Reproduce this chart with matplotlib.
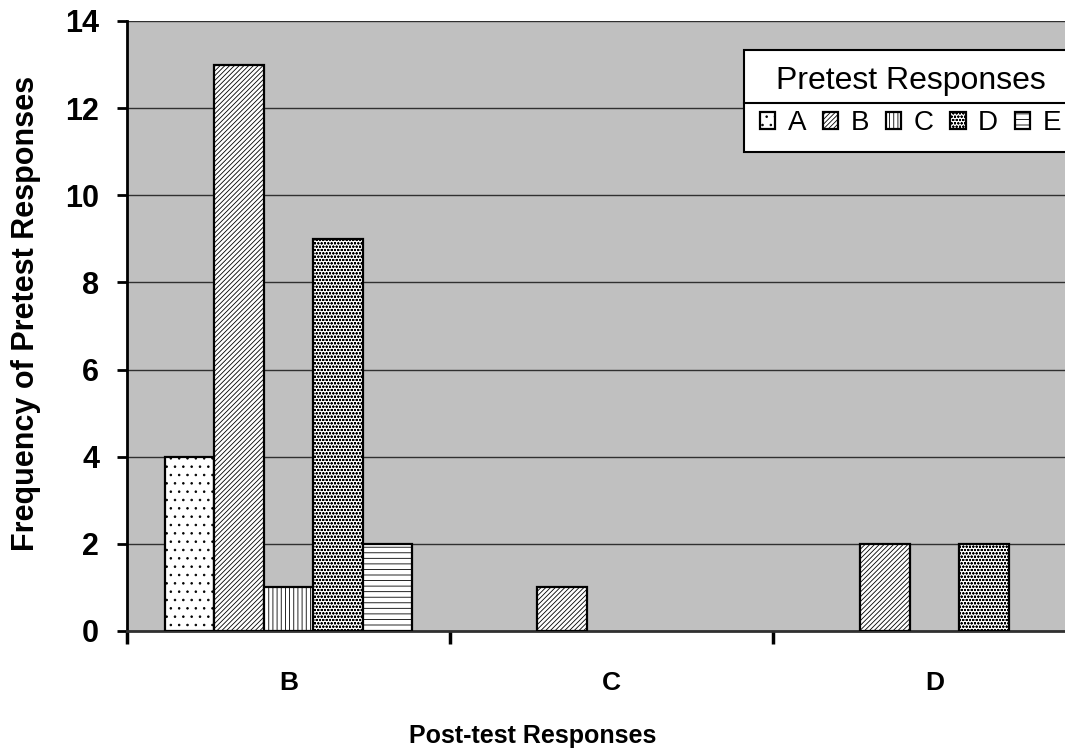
import numpy as np
import matplotlib
matplotlib.use("Agg")
import matplotlib.pyplot as plt
from matplotlib.lines import Line2D

plt.rcParams['font.family'] = ['Liberation Sans', 'DejaVu Sans']
plt.rcParams['hatch.linewidth'] = 0.6

# post-test answer groups and the pretest answers within each
post_labels = ['B', 'C', 'D']
pre_labels = ['A', 'B', 'C', 'D', 'E']

# frequency of each pretest answer, one list per pretest answer (over B, C, D)
freq_A = [4, 0, 0]
freq_B = [13, 1, 2]
freq_C = [1, 0, 0]
freq_D = [9, 0, 2]
freq_E = [2, 0, 0]
series = [freq_A, freq_B, freq_C, freq_D, freq_E]

hatches = ['..', '///////', '||||', 'ooooo', '---']

fig = plt.figure(figsize=(10.65, 7.51), dpi=100)
ax = fig.add_axes([127 / 1065, 120 / 751, 938 / 1065, 610 / 751])
ax.set_facecolor('#c0c0c0')

x = np.arange(len(post_labels))
w = 49.5 / 323
for i, (vals, lab, h) in enumerate(zip(series, pre_labels, hatches)):
    bars = ax.bar(x + (i - 2) * w, vals, width=w, facecolor='white',
                  edgecolor='black', linewidth=1.6, hatch=h, label=lab, zorder=3)
    # empty counts leave no mark
    for b, v in zip(bars, vals):
        if v == 0:
            b.set_visible(False)

# group boundaries carry the ticks, group centres carry the labels
ax.set_xticks(np.arange(-0.5, 3, 1.0))
ax.set_xticklabels([])
ax.set_xticks(x, minor=True)
ax.set_xticklabels(post_labels, minor=True, fontsize=19, fontweight='bold')
ax.tick_params(axis='x', which='major', length=9, width=2.5, direction='out')
ax.tick_params(axis='x', which='minor', length=0, pad=29)

ax.set_ylim(0, 14)
ax.set_xlim(-0.5, -0.5 + 938 / 323)
ax.set_yticks(np.arange(0, 15, 2))
ax.yaxis.grid(True, color='#303030', linewidth=1.0, zorder=0)
ax.set_axisbelow(True)
ax.tick_params(axis='y', length=7, width=2, direction='out', pad=13,
               labelsize=22)
for t in ax.get_yticklabels():
    t.set_fontweight('bold')

for s in ['top', 'right']:
    ax.spines[s].set_visible(False)
ax.spines['left'].set_linewidth(2)
ax.spines['bottom'].set_linewidth(2)
ax.spines['bottom'].set_color('#303030')

ax.set_xlabel('Post-test Responses', fontsize=18, fontweight='bold')
ax.set_ylabel('Frequency of Pretest Responses', fontsize=22, fontweight='bold')
ax.xaxis.set_label_coords(0.432, -0.152)
ax.yaxis.set_label_coords(-0.092, 0.52)

leg = ax.legend(title='Pretest Responses', ncol=5, loc='upper left',
                bbox_to_anchor=(617 / 938, 581 / 610), borderaxespad=0,
                fontsize=20, title_fontsize=23, fancybox=False, framealpha=1,
                edgecolor='black', handlelength=0.55, handleheight=0.55,
                handletextpad=0.45, columnspacing=0.6, borderpad=0.58)
leg.get_frame().set_linewidth(1.5)
leg.set_zorder(5)

# separator between the legend title and its entries
fig.canvas.draw()
r = fig.canvas.get_renderer()
fb = leg.get_frame().get_window_extent(r)
tb = leg.get_title().get_window_extent(r)
eb = leg.get_texts()[0].get_window_extent(r)
ysep = (tb.y0 + eb.y1) / 2
fig.add_artist(Line2D([fb.x0 / 1065, fb.x1 / 1065], [ysep / 751, ysep / 751],
                      transform=fig.transFigure, color='black', linewidth=1.5,
                      zorder=6))

fig.savefig('out.png', dpi=100)
